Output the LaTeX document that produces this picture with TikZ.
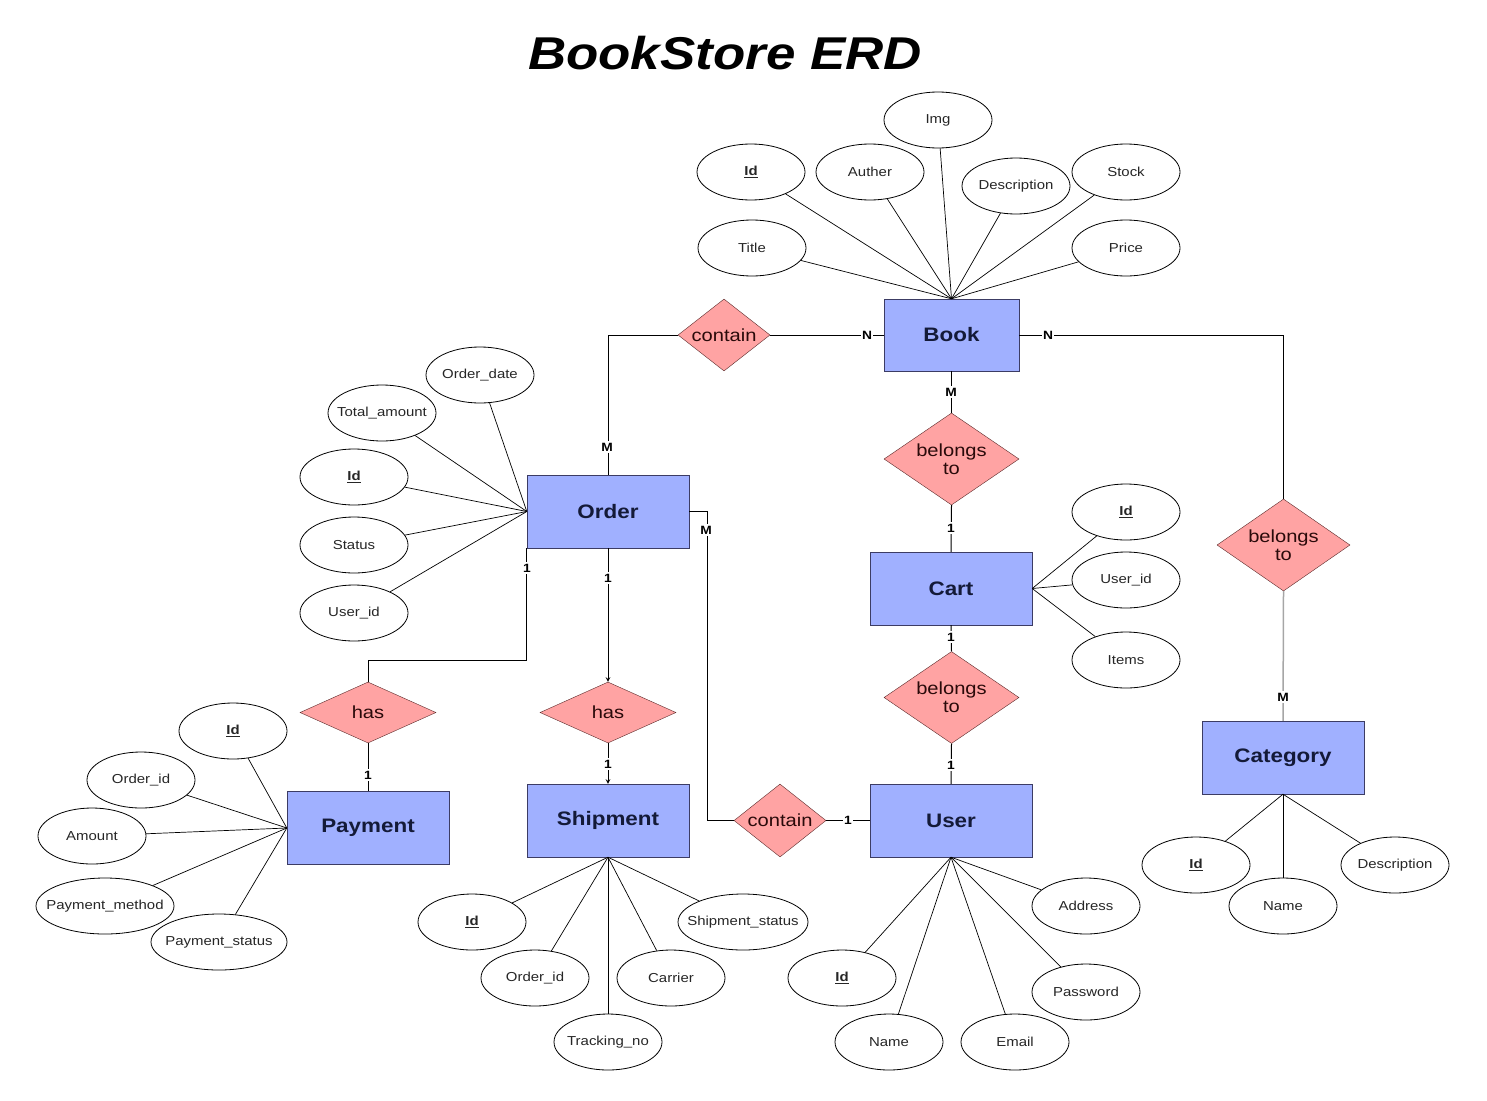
\documentclass[tikz,border=0pt]{standalone}
\usepackage{fontspec}
\setmainfont[FakeStretch=1.15]{Liberation Sans}
\usetikzlibrary{shapes.geometric}
\usetikzlibrary{positioning}
\definecolor{entfill}{HTML}{A0B0FF}
\definecolor{entdraw}{HTML}{3C3C64}
\definecolor{enttext}{HTML}{141A38}
\definecolor{relfill}{HTML}{FFA3A3}
\definecolor{reldraw}{HTML}{5A2A2A}
\definecolor{reltext}{HTML}{2A0A0A}
\tikzset{>=stealth}
\tikzset{
	% entities
	entity/.style={draw=entdraw,fill=entfill,minimum width=162pt,minimum height=73pt,inner sep=0pt,text=enttext,font=\fontsize{19.5}{22}\selectfont\bfseries},
	% relationships
	relation/.style={diamond,draw=reldraw,fill=relfill,aspect=1.5,inner sep=0pt,align=center,text=reltext,font=\fontsize{17.5}{18}\selectfont},
	% attributes
	attr/.style={ellipse,draw,line width=0.8pt,minimum width=108pt,minimum height=56pt,inner sep=0pt,text=black!85,font=\fontsize{13}{15}\selectfont},
	% cardinality labels
	card/.style={fill=white,inner sep=1.5pt,font=\fontsize{12}{14}\selectfont\bfseries},
	conn/.style={line width=1pt},
	attrline/.style={line width=0.7pt},
}

\begin{document}
\begin{tikzpicture}[x=1pt,y=-1pt]
\useasboundingbox (0,0) rectangle (1487,1100);
% title
\node (title) at (725,53) {\fontsize{46}{50}\selectfont\bfseries\itshape BookStore ERD};
% entities
\node[entity,minimum width=135pt,minimum height=72pt] (book) at (951.5,335) {Book};
\node[entity] (order) at (608,511.5) {Order};
\node[entity] (cart) at (951,588.5) {Cart};
\node[entity] (user) at (951,820.5) {User};
\node[entity] (payment) at (368,828) {Payment};
\node[entity] (shipment) at (608,820.5) {Shipment};
\node[entity] (category) at (1283,757.5) {Category};
% relationships
\node[relation,minimum width=92pt,minimum height=72pt] (containbook) at (724,335) {contain};
\node[relation,minimum width=135pt,minimum height=92pt] (belongcart) at (951.5,459) {belongs\\to};
\node[relation,minimum width=135pt,minimum height=92pt] (belonguser) at (951.5,697.5) {belongs\\to};
\node[relation,minimum width=133pt,minimum height=92pt] (belongcat) at (1283.5,545) {belongs\\to};
\node[relation,minimum width=136pt,minimum height=61pt] (haspay) at (368,712.5) {has};
\node[relation,minimum width=136pt,minimum height=61pt] (hasship) at (608,712.5) {has};
\node[relation,minimum width=92pt,minimum height=73pt] (containuser) at (780,820.5) {contain};
% book attributes
\foreach \n/\t/\x/\y in {bimg/Img/938/120, bid/\underline{\textbf{Id}}/751/172, bauth/Auther/870/172,
  bdesc/Description/1016/186, bstock/Stock/1126/172, btitle/Title/752/248, bprice/Price/1126/248}
{
  \node[attr] (\n) at (\x,\y) {\makebox[0pt]{\t}};
  \draw[attrline] (\n) -- (book.north);
}
% order attributes
\foreach \n/\t/\x/\y in {odate/Order\_date/480/375, ototal/Total\_amount/382/413, oid/\underline{\textbf{Id}}/354/477,
  ostatus/Status/354/545, ouser/User\_id/354/613}
{
  \node[attr] (\n) at (\x,\y) {\makebox[0pt]{\t}};
  \draw[attrline] (\n) -- (order.west);
}
% cart attributes
\foreach \n/\t/\x/\y in {cid/\underline{\textbf{Id}}/1126/512, cuser/User\_id/1126/580, citems/Items/1126/660}
{
  \node[attr] (\n) at (\x,\y) {\makebox[0pt]{\t}};
  \draw[attrline] (\n) -- (cart.east);
}
% payment attributes
\node[attr,minimum width=138pt] (pmethod) at (105,906) {\makebox[0pt]{Payment\_method}};
\node[attr,minimum width=136pt] (pstatus) at (219,942) {\makebox[0pt]{Payment\_status}};
\draw[attrline] (pmethod) -- (payment.west);
\draw[attrline] (pstatus) -- (payment.west);
\foreach \n/\t/\x/\y in {pid/\underline{\textbf{Id}}/233/731, porder/Order\_id/141/780, pamount/Amount/92/836}
{
  \node[attr] (\n) at (\x,\y) {\makebox[0pt]{\t}};
  \draw[attrline] (\n) -- (payment.west);
}
% shipment attributes
\node[attr,minimum width=130pt] (sstatus) at (743,922) {\makebox[0pt]{Shipment\_status}};
\draw[attrline] (sstatus) -- (shipment.south);
\foreach \n/\t/\x/\y in {sid/\underline{\textbf{Id}}/472/922, sorder/Order\_id/535/978, strack/Tracking\_no/608/1042,
  scarrier/Carrier/671/978}
{
  \node[attr] (\n) at (\x,\y) {\makebox[0pt]{\t}};
  \draw[attrline] (\n) -- (shipment.south);
}
% user attributes
\foreach \n/\t/\x/\y in {uid/\underline{\textbf{Id}}/842/978, uname/Name/889/1042, uemail/Email/1015/1042,
  upass/Password/1086/992, uaddr/Address/1086/906}
{
  \node[attr] (\n) at (\x,\y) {\makebox[0pt]{\t}};
  \draw[attrline] (\n) -- (user.south);
}
% category attributes
\foreach \n/\t/\x/\y in {kid/\underline{\textbf{Id}}/1196/865, kname/Name/1283/906, kdesc/Description/1395/865}
{
  \node[attr] (\n) at (\x,\y) {\makebox[0pt]{\t}};
  \draw[attrline] (\n) -- (category.south);
}
% relationship lines
\draw[conn] (containbook.west) -| (order.north);
\draw[conn] (containbook.east) -- (book.west);
\draw[conn] (book.east) -| (belongcat.north);
\draw[line width=1.5pt,black!35] (belongcat.south) -- (category.north);
\draw[conn] (book.south) -- (belongcart.north);
\draw[conn] (belongcart.south) -- (cart.north);
\draw[conn] (cart.south) -- (belonguser.north);
\draw[conn] (belonguser.south) -- (user.north);
\draw[conn] (order.east) -- ++(18,0) |- (containuser.west);
\draw[conn] (containuser.east) -- (user.west);
\draw[conn] (order.south west) -- ++(0,112) -| (haspay.north);
\draw[conn] (haspay.south) -- (payment.north);
\draw[conn,->] (order.south) -- (hasship.north);
\draw[conn,->] (hasship.south) -- (shipment.north);
% cardinalities
\node[card] (corder) at (607,447) {M};
\node[card] (cbookw) at (867,335) {N};
\node[card] (cbooke) at (1048,335) {N};
\node[card] (cbooks) at (951,392) {M};
\node[card] (ccartn) at (951,528) {1};
\node[card] (ccarts) at (951,637) {1};
\node[card] (cusern) at (951,765) {1};
\node[card] (ccat) at (1283,697) {M};
\node[card] (cordere) at (706,530) {M};
\node[card] (cuserw) at (848,820.5) {1};
\node[card] (corderpay) at (527,568) {1};
\node[card] (cpay) at (368,775) {1};
\node[card] (cordership) at (608,578) {1};
\node[card] (cship) at (608,764) {1};
\end{tikzpicture}
\end{document}
